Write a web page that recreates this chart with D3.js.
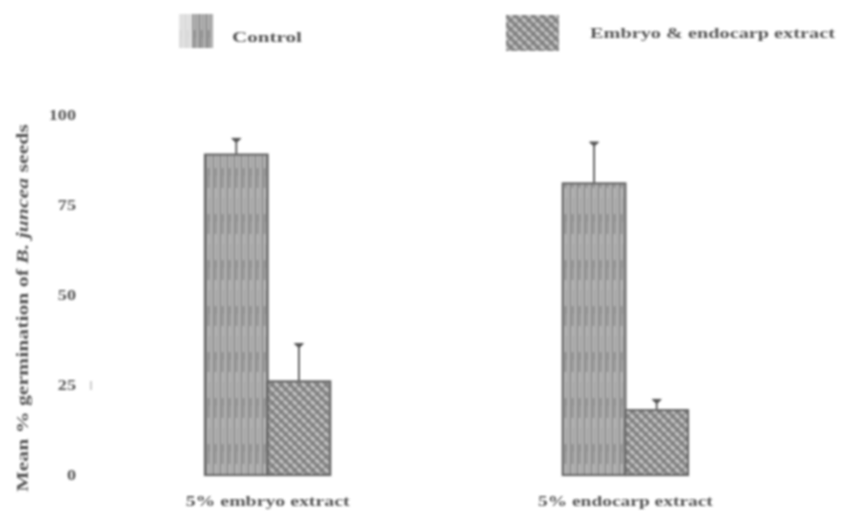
<!DOCTYPE html>
<html>
<head>
<meta charset="utf-8">
<script src="https://cdn.jsdelivr.net/npm/d3@7"></script>
<style>
  html, body { margin: 0; padding: 0; background: #fff; }
  svg { display: block; }
  text { font-family: "Liberation Serif", "Times New Roman", serif; fill: #555; font-weight: bold; }
</style>
</head>
<body>
<svg id="chart" width="856" height="512"></svg>
<script>
// Treatments along the x axis and the two series drawn in each
const groups = ["5% embryo extract", "5% endocarp extract"];
const seriesNames = ["Control", "Embryo & endocarp extract"];
// Mean % germination for each treatment, one array per series
const controlValues = [89, 81];
const extractValues = [26, 18];
// Upper error (standard error) for each bar
const controlErrors = [4.5, 11.5];
const extractErrors = [10.5, 3];
const yTicks = [0, 25, 50, 75, 100];

const svg = d3.select("#chart");

const defs = svg.append("defs");
const blur = defs.append("filter").attr("id", "soft")
  .attr("x", "-5%").attr("y", "-5%").attr("width", "110%").attr("height", "110%");
blur.append("feGaussianBlur").attr("stdDeviation", 0.8);

// Vertical-stripe fill for the control bars
const pv = defs.append("pattern").attr("id", "stripes")
  .attr("patternUnits", "userSpaceOnUse").attr("width", 7).attr("height", 46);
pv.append("rect").attr("width", 7).attr("height", 46).attr("fill", "#9c9c9c");
pv.append("rect").attr("x", 1).attr("width", 1).attr("height", 46).attr("fill", "#c6c6c6");
pv.append("rect").attr("x", 3).attr("width", 1).attr("height", 46).attr("fill", "#848484");
pv.append("rect").attr("x", 5).attr("y", 4).attr("width", 1).attr("height", 26).attr("fill", "#d0d0d0");
pv.append("rect").attr("x", 6).attr("y", 14).attr("width", 1).attr("height", 24).attr("fill", "#8c8c8c");

// Cross-hatched fill for the extract bars
const ph = defs.append("pattern").attr("id", "hatch")
  .attr("patternUnits", "userSpaceOnUse").attr("width", 9).attr("height", 9);
ph.append("rect").attr("width", 9).attr("height", 9).attr("fill", "#8a8a8a");
ph.append("path").attr("d", "M0,0 L9,9 M-4.5,4.5 L4.5,13.5 M4.5,-4.5 L13.5,4.5")
  .attr("stroke", "#cfcfcf").attr("stroke-width", 2);
ph.append("path").attr("d", "M0,9 L9,0 M-4.5,4.5 L4.5,-4.5 M4.5,13.5 L13.5,4.5")
  .attr("stroke", "#747474").attr("stroke-width", 1.2);

const root = svg.append("g").attr("filter", "url(#soft)");

// Draws text horizontally stretched to a set width; anchor: start | middle | end
function wideText(parent, txt, x, yPos, size, width, anchor, rotate) {
  const g = parent.append("g")
    .attr("transform", `translate(${x},${yPos})` + (rotate ? ` rotate(${rotate})` : ""));
  const t = g.append("text").attr("font-size", size).attr("text-anchor", anchor);
  if (Array.isArray(txt)) {
    txt.forEach(p => t.append("tspan").attr("font-style", p.italic ? "italic" : null).text(p.text));
  } else {
    t.text(txt);
  }
  const w = t.node().getComputedTextLength();
  t.attr("transform", `scale(${width / w},1)`);
  return t;
}

// Scales
const y = d3.scaleLinear().domain([0, 100]).range([475, 115]);
const x0 = d3.scaleBand().domain(groups).range([205, 688]).paddingInner(0.65).paddingOuter(0);
const x1 = d3.scaleBand().domain(seriesNames).range([0, x0.bandwidth()]);

// Y axis: labels only, no line or tick marks; labels widened like the rest of the text
const yAxis = root.append("g").attr("transform", "translate(76,0)")
  .call(d3.axisLeft(y).tickValues(yTicks).tickSize(0).tickPadding(0).tickFormat(d3.format("d")));
yAxis.select(".domain").remove();
yAxis.selectAll(".tick text")
  .attr("font-family", null).attr("font-size", 14).attr("fill", null)
  .attr("transform", "scale(1.3,1)");

// Small stray mark beside the 25 label
root.append("line").attr("x1", 91).attr("x2", 91)
  .attr("y1", y(25) - 4).attr("y2", y(25) + 5)
  .attr("stroke", "#999").attr("stroke-width", 1);

// Y axis title with italic species name
wideText(root, [
  { text: "Mean % germination of " },
  { text: "B. juncea", italic: true },
  { text: " seeds" }
], 28, 308, 16, 368, "middle", -90);

// One record per bar
const rows = groups.map((g, i) => [
  { group: g, series: seriesNames[0], value: controlValues[i], err: controlErrors[i], fill: "url(#stripes)" },
  { group: g, series: seriesNames[1], value: extractValues[i], err: extractErrors[i], fill: "url(#hatch)" }
]).flat();
const cx = d => x0(d.group) + x1(d.series) + x1.bandwidth() / 2;

const bars = root.append("g");
// error bars (upper only)
bars.selectAll("line.err").data(rows).join("line").attr("class", "err")
  .attr("x1", cx).attr("x2", cx)
  .attr("y1", d => y(d.value)).attr("y2", d => y(d.value + d.err))
  .attr("stroke", "#555").attr("stroke-width", 1.8);
bars.selectAll("path.cap").data(rows).join("path").attr("class", "cap")
  .attr("d", d => {
    const c = cx(d), cy = y(d.value + d.err);
    return `M${c - 4.5},${cy} L${c + 4.5},${cy} L${c + 1},${cy + 3.5} L${c - 1},${cy + 3.5} Z`;
  })
  .attr("fill", "#555").attr("stroke", "#555").attr("stroke-width", 1);

bars.selectAll("rect.bar").data(rows).join("rect").attr("class", "bar")
  .attr("x", d => x0(d.group) + x1(d.series))
  .attr("y", d => y(d.value))
  .attr("width", x1.bandwidth())
  .attr("height", d => y(0) - y(d.value))
  .attr("fill", d => d.fill)
  .attr("stroke", "#666").attr("stroke-width", 2.2);

// X axis labels
const xLabelWidths = [164, 175];
groups.forEach((g, i) => {
  wideText(root, g, x0(g) + x0.bandwidth() / 2, 506, 14, xLabelWidths[i], "middle");
});

// Legend
const legend = root.append("g");
legend.append("rect").attr("x", 179).attr("y", 14).attr("width", 34).attr("height", 34)
  .attr("fill", "url(#stripes)");
legend.append("rect").attr("x", 179).attr("y", 14).attr("width", 13).attr("height", 34)
  .attr("fill", "#fff").attr("opacity", 0.65);
wideText(legend, seriesNames[0], 232, 42, 14, 70, "start");
legend.append("rect").attr("x", 506).attr("y", 15).attr("width", 53).attr("height", 36)
  .attr("fill", "url(#hatch)");
wideText(legend, seriesNames[1], 590, 38, 15, 245, "start");
</script>
</body>
</html>
